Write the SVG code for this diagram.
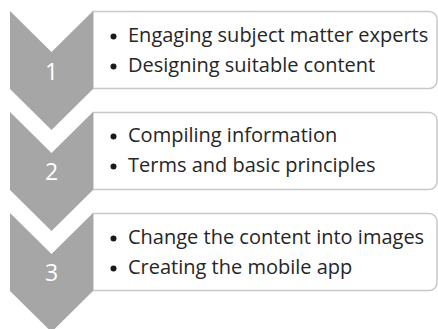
<svg xmlns="http://www.w3.org/2000/svg" width="438" height="329" viewBox="0 0 438 329">
<defs>
<style>
.chev{fill:#A6A6A6;}
.box{fill:#FFFFFF;stroke:#C8C8C8;stroke-width:1.5;}
.num{font-family:"Open Sans","Liberation Sans",sans-serif;font-size:23px;fill:#FFFFFF;text-anchor:middle;}
.txt{font-family:"Open Sans","Liberation Sans",sans-serif;font-size:20px;fill:#262626;}
.dot{fill:#1A1A1A;}
</style>
</defs>
<rect width="438" height="329" fill="#FFFFFF"/>
<g id="step1">
<path class="box" d="M93,11.5 H429 A8,8 0 0 1 437,19.5 V80.5 A8,8 0 0 1 429,88.5 H93 Z"/>
<path class="chev" d="M10,11 L51.5,52 L93,11 L93,89 L51.5,130 L10,89 Z"/>
<text class="num" x="51.5" y="80">1</text>
<circle class="dot" cx="113.5" cy="36.5" r="3"/>
<text class="txt" x="128" y="42">Engaging subject matter experts</text>
<circle class="dot" cx="113.5" cy="66.5" r="3"/>
<text class="txt" x="128" y="72">Designing suitable content</text>
</g>
<g id="step2">
<path class="box" d="M93,112.5 H429 A8,8 0 0 1 437,120.5 V181.5 A8,8 0 0 1 429,189.5 H93 Z"/>
<path class="chev" d="M10,112 L51.5,153 L93,112 L93,190 L51.5,231 L10,190 Z"/>
<text class="num" x="51.5" y="180">2</text>
<circle class="dot" cx="113.5" cy="136.5" r="3"/>
<text class="txt" x="128" y="142">Compiling information</text>
<circle class="dot" cx="113.5" cy="166.5" r="3"/>
<text class="txt" x="128" y="172">Terms and basic principles</text>
</g>
<g id="step3">
<path class="box" d="M93,213.5 H429 A8,8 0 0 1 437,221.5 V282.5 A8,8 0 0 1 429,290.5 H93 Z"/>
<path class="chev" d="M10,213 L51.5,254 L93,213 L93,291 L51.5,332 L10,291 Z"/>
<text class="num" x="51.5" y="281">3</text>
<circle class="dot" cx="113.5" cy="238.5" r="3"/>
<text class="txt" x="128" y="244">Change the content into images</text>
<circle class="dot" cx="113.5" cy="268.5" r="3"/>
<text class="txt" x="128" y="274">Creating the mobile app</text>
</g>
<g id="connectors"></g>
</svg>
